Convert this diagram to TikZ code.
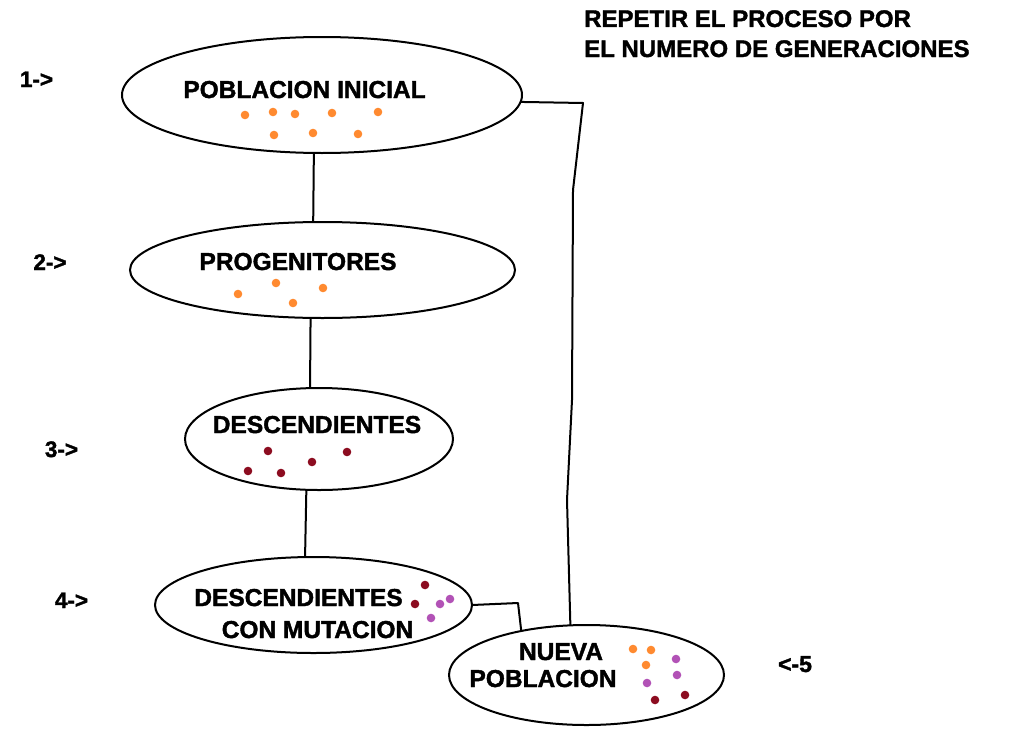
\documentclass[tikz,border=0pt]{standalone}
\usepackage{fontspec}
\setmainfont{Liberation Sans}[BoldFeatures={FakeBold=1.6}]
\usetikzlibrary{shapes.geometric}
\definecolor{dotorange}{RGB}{255,138,48}
\definecolor{dotred}{RGB}{140,12,32}
\definecolor{dotpurple}{RGB}{178,82,182}
\tikzset{
  ell/.style={draw, ellipse, line width=2pt, inner sep=0pt, outer sep=0pt},
  lbl/.style={font=\fontsize{24.5}{28}\selectfont\bfseries, inner sep=0pt, anchor=base},
  side/.style={font=\fontsize{22.5}{26}\selectfont\bfseries, inner sep=0pt, anchor=base},
  conn/.style={line width=2pt, line join=round},
  od/.style={fill=dotorange},
  rd/.style={fill=dotred},
  pd/.style={fill=dotpurple}
}
\newcommand{\dotat}[2]{\fill[#1] (#2) circle (4.3);}
\begin{document}
\begin{tikzpicture}[x=1pt,y=-1pt]
\useasboundingbox (0,0) rectangle (1024,736);
% ellipses
\node[ell, minimum width=400, minimum height=116] (e1) at (322,95) {};
\node[ell, minimum width=385, minimum height=96] (e2) at (322.5,270) {};
\node[ell, minimum width=268, minimum height=102] (e3) at (319,439) {};
\node[ell, minimum width=317, minimum height=96] (e4) at (313.5,605) {};
\node[ell, minimum width=275, minimum height=100] (e5) at (586.5,675) {};
% texts
\node[lbl] (t1) at (304.5,98) {POBLACION INICIAL};
\node[lbl] (t2) at (298,270) {PROGENITORES};
\node[lbl] (t3) at (317,433) {DESCENDIENTES};
\node[lbl] (t4a) at (298.5,606) {DESCENDIENTES};
\node[lbl] (t4b) at (317.5,638) {CON MUTACION};
\node[lbl] (t5a) at (561,660) {NUEVA};
\node[lbl] (t5b) at (543,687) {POBLACION};
\node[lbl, anchor=base west, font=\fontsize{24}{28}\selectfont\bfseries] (r1) at (584,27) {REPETIR EL PROCESO POR};
\node[lbl, anchor=base west, font=\fontsize{24}{28}\selectfont\bfseries] (r2) at (584,57) {EL NUMERO DE GENERACIONES};
\node[side] (s1) at (36.5,87) {1->};
\node[side] (s2) at (50,270) {2->};
\node[side] (s3) at (61.5,457) {3->};
\node[side] (s4) at (71.5,608) {4->};
\node[side, font=\fontsize{23}{26}\selectfont\bfseries] (s5) at (795,672) {<-5};
% connectors
\coordinate (k1) at (583,103);
\coordinate (k2) at (573,190);
\coordinate (k3) at (572,400);
\coordinate (k4) at (567,500);
\coordinate (k5) at (518,603);
\draw[conn] (e1.-98.8) -- (e2.101.2);
\draw[conn] (e2.-104.6) -- (e3.100);
\draw[conn] (e3.-104.3) -- (e4.100);
\draw[conn] (e4.east) -- (k5) -- (e5.146.6);
\draw[conn] (e1.-2) -- (k1) -- (k2) -- (k3) -- (k4) -- (e5.108.4);
% dots
\dotat{od}{245,115} \dotat{od}{273,112} \dotat{od}{295,114} \dotat{od}{332,113}
\dotat{od}{378,112} \dotat{od}{274,135} \dotat{od}{313,133} \dotat{od}{358,134}
\dotat{od}{238,294} \dotat{od}{276,283} \dotat{od}{293,303} \dotat{od}{323,288}
\dotat{rd}{268,451} \dotat{rd}{248,471} \dotat{rd}{281,473} \dotat{rd}{312,462} \dotat{rd}{347,452}
\dotat{rd}{425,585} \dotat{rd}{415,604} \dotat{pd}{440,604} \dotat{pd}{450,599} \dotat{pd}{431,618}
\dotat{od}{633,649} \dotat{od}{651,650} \dotat{od}{646,665}
\dotat{pd}{676,659} \dotat{pd}{677,675} \dotat{pd}{647,683}
\dotat{rd}{655,700} \dotat{rd}{685,695}
\end{tikzpicture}
\end{document}
